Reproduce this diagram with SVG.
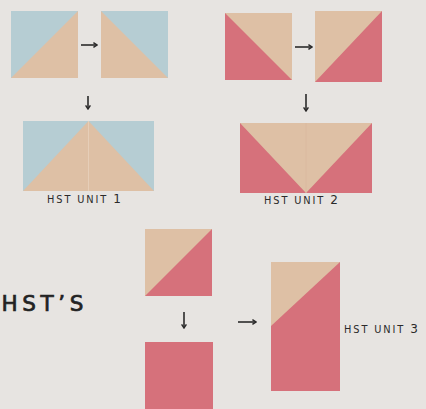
<svg xmlns="http://www.w3.org/2000/svg" width="426" height="409" viewBox="0 0 426 409">
  <defs>
    <style>
      .blue { fill: #b6cdd3; }
      .tan { fill: #dec0a5; }
      .red { fill: #d6717b; }
      .seam { stroke: #e8d2bd; stroke-width: 0.8; }
      .lbl { font-family: "DejaVu Sans", "Liberation Sans", sans-serif; font-size: 9.8px; fill: #2b2a2a; letter-spacing: 1.9px; }
      .num { font-size: 12px; letter-spacing: 0; }
      .title { font-family: "DejaVu Sans", "Liberation Sans", sans-serif; font-size: 21.5px; fill: #222; stroke: #222; stroke-width: 0.7; letter-spacing: 4.6px; }
      .arrow { stroke: #2b2a2a; stroke-width: 1.6; fill: none; marker-end: url(#head); }
    </style>
    <marker id="head" viewBox="0 0 10 10" refX="8" refY="5" markerWidth="6" markerHeight="6" markerUnits="userSpaceOnUse" orient="auto">
      <path d="M2,1 L8,5 L2,9" fill="none" stroke="#2b2a2a" stroke-width="2.4"/>
    </marker>
  </defs>
  <rect width="426" height="409" fill="#e7e4e1"/>

  <g id="square-a">
    <rect class="blue" x="11" y="11" width="67" height="67"/>
    <polygon class="tan" points="11,78 78,11 78,78"/>
  </g>
  <g id="square-b">
    <rect class="blue" x="101" y="11" width="67" height="67"/>
    <polygon class="tan" points="101,11 168,78 101,78"/>
  </g>
  <g id="unit-1">
    <rect class="blue" x="23" y="121" width="131" height="70"/>
    <polygon class="tan" points="23,191 88.5,121 154,191"/>
    <line class="seam" x1="88.5" y1="121" x2="88.5" y2="191"/>
    <text class="lbl" x="47" y="203">HST UNIT <tspan class="num">1</tspan></text>
  </g>

  <g id="square-c">
    <rect class="tan" x="225" y="13" width="67" height="67"/>
    <polygon class="red" points="225,13 292,80 225,80"/>
  </g>
  <g id="square-d">
    <rect class="tan" x="315" y="11" width="67" height="71"/>
    <polygon class="red" points="315,82 382,11 382,82"/>
  </g>
  <g id="unit-2">
    <rect class="red" x="240" y="123" width="132" height="70"/>
    <polygon class="tan" points="240,123 372,123 306,193"/>
    <line x1="306" y1="123" x2="306" y2="193" stroke="#d9b89e" stroke-width="0.8"/>
    <text class="lbl" x="264" y="204">HST UNIT <tspan class="num">2</tspan></text>
  </g>

  <g id="title">
    <text class="title" x="1.5" y="311">HST’S</text>
  </g>
  <g id="square-e">
    <rect class="red" x="145" y="229" width="67" height="67"/>
    <polygon class="tan" points="145,229 212,229 145,296"/>
  </g>
  <g id="square-f">
    <rect class="red" x="145" y="342" width="68" height="67"/>
  </g>
  <g id="unit-3">
    <rect class="red" x="271" y="262" width="69" height="129"/>
    <polygon class="tan" points="271,262 340,262 271,326"/>
    <text class="lbl" x="344" y="333">HST UNIT <tspan class="num">3</tspan></text>
  </g>

  <g id="connectors">
    <line class="arrow" x1="81" y1="45" x2="97" y2="45"/>
    <line class="arrow" x1="88" y1="96" x2="88" y2="109"/>
    <line class="arrow" x1="295" y1="47" x2="312" y2="47"/>
    <line class="arrow" x1="306" y1="94" x2="306" y2="111"/>
    <line class="arrow" x1="184" y1="312" x2="184" y2="328"/>
    <line class="arrow" x1="238" y1="322" x2="256" y2="322"/>
  </g>
</svg>
